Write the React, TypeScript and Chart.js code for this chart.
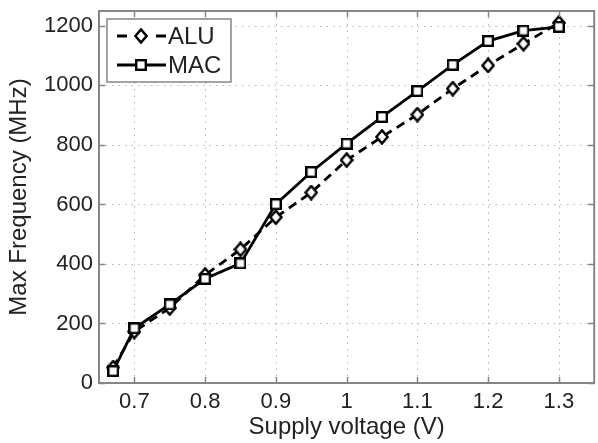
import { useEffect, useRef } from "react";
import { Chart, registerables } from "chart.js";

Chart.register(...registerables);

const voltages = [0.67, 0.7, 0.75, 0.8, 0.85, 0.9, 0.95, 1.0, 1.05, 1.1, 1.15, 1.2, 1.25, 1.3];
const aluFreq = [52, 173, 252, 363, 449, 557, 640, 749, 827, 902, 989, 1067, 1140, 1210];
const macFreq = [40, 184, 264, 350, 402, 601, 709, 804, 894, 981, 1069, 1149, 1184, 1197];
const xTickValues = [0.7, 0.8, 0.9, 1.0, 1.1, 1.2, 1.3];
const yTickValues = [0, 200, 400, 600, 800, 1000, 1200];
const seriesNames = ["ALU", "MAC"];

const FONT = '"Liberation Sans", Arial, Helvetica, sans-serif';
const TEXT = "#222222";
const AXIS = "#858585";

function makeDiamond(): HTMLCanvasElement {
  const c = document.createElement("canvas");
  c.width = 14;
  c.height = 16;
  const g = c.getContext("2d")!;
  g.beginPath();
  g.moveTo(7, 1.4);
  g.lineTo(12.6, 8);
  g.lineTo(7, 14.6);
  g.lineTo(1.4, 8);
  g.closePath();
  g.fillStyle = "#ffffff";
  g.fill();
  g.lineWidth = 2.4;
  g.strokeStyle = "#000";
  g.stroke();
  return c;
}

function makeSquare(): HTMLCanvasElement {
  const c = document.createElement("canvas");
  c.width = 12;
  c.height = 12;
  const g = c.getContext("2d")!;
  g.fillStyle = "#ffffff";
  g.fillRect(1, 1, 10, 10);
  g.lineWidth = 2.4;
  g.strokeStyle = "#000";
  g.strokeRect(1.2, 1.2, 9.6, 9.6);
  return c;
}

function makePlugin(imgs: HTMLCanvasElement[]) {
  return {
    id: "matlabAxes",
    beforeDatasetsDraw(chart: any) {
      const { ctx, chartArea: a, scales } = chart;
      const x = scales.x;
      const y = scales.y;
      ctx.save();
      ctx.strokeStyle = "#b4b4b4";
      ctx.lineWidth = 1;
      ctx.setLineDash([1.5, 5]);
      for (const v of xTickValues) {
        const px = Math.round(x.getPixelForValue(v)) + 0.5;
        ctx.beginPath();
        ctx.moveTo(px, a.top);
        ctx.lineTo(px, a.bottom);
        ctx.stroke();
      }
      for (const v of yTickValues) {
        if (v === 0) continue;
        const py = Math.round(y.getPixelForValue(v)) + 0.5;
        ctx.beginPath();
        ctx.moveTo(a.left, py);
        ctx.lineTo(a.right, py);
        ctx.stroke();
      }
      ctx.restore();
    },
    afterDatasetsDraw(chart: any) {
      const { ctx, chartArea: a, scales } = chart;
      const x = scales.x;
      const y = scales.y;
      ctx.save();
      ctx.strokeStyle = AXIS;
      ctx.lineWidth = 2;
      ctx.setLineDash([]);
      ctx.strokeRect(a.left, a.top, a.right - a.left, a.bottom - a.top);
      const tl = 6;
      ctx.lineWidth = 1.5;
      for (const v of xTickValues) {
        const px = Math.round(x.getPixelForValue(v)) + 0.5;
        ctx.beginPath();
        ctx.moveTo(px, a.bottom);
        ctx.lineTo(px, a.bottom - tl);
        ctx.moveTo(px, a.top);
        ctx.lineTo(px, a.top + tl);
        ctx.stroke();
      }
      for (const v of yTickValues) {
        const py = Math.round(y.getPixelForValue(v)) + 0.5;
        ctx.beginPath();
        ctx.moveTo(a.left, py);
        ctx.lineTo(a.left + tl, py);
        ctx.moveTo(a.right, py);
        ctx.lineTo(a.right - tl, py);
        ctx.stroke();
      }
      ctx.restore();
    },
    afterDraw(chart: any) {
      const { ctx } = chart;
      ctx.save();
      ctx.fillStyle = "#ffffff";
      ctx.fillRect(107, 19, 124, 63);
      ctx.strokeStyle = AXIS;
      ctx.lineWidth = 1.5;
      ctx.strokeRect(107, 19, 124, 63);
      const rows = [36, 65];
      ctx.strokeStyle = "#000";
      ctx.lineWidth = 2.8;
      ctx.beginPath();
      ctx.moveTo(117, rows[0]);
      ctx.lineTo(127, rows[0]);
      ctx.moveTo(156, rows[0]);
      ctx.lineTo(166, rows[0]);
      ctx.stroke();
      ctx.beginPath();
      ctx.moveTo(117, rows[1]);
      ctx.lineTo(166, rows[1]);
      ctx.stroke();
      ctx.drawImage(imgs[0], 141 - imgs[0].width / 2, rows[0] - imgs[0].height / 2);
      ctx.drawImage(imgs[1], 141 - imgs[1].width / 2, rows[1] - imgs[1].height / 2);
      ctx.fillStyle = TEXT;
      ctx.font = `24px ${FONT}`;
      ctx.textBaseline = "middle";
      ctx.textAlign = "left";
      ctx.fillText(seriesNames[0], 168, rows[0] + 1);
      ctx.fillText(seriesNames[1], 168, rows[1] + 1);
      ctx.restore();
    },
  };
}

export default function App() {
  const ref = useRef<HTMLCanvasElement | null>(null);
  useEffect(() => {
    const canvas = ref.current;
    if (!canvas) return;
    const diamond = makeDiamond();
    const square = makeSquare();
    const chart = new Chart(canvas, {
      type: "line",
      data: {
        datasets: [
          {
            label: seriesNames[0],
            data: voltages.map((v, i) => ({ x: v, y: aluFreq[i] })),
            borderColor: "#000",
            borderWidth: 2.8,
            borderDash: [9, 6],
            pointStyle: diamond as any,
            pointRadius: 7,
            fill: false,
            tension: 0,
            order: 1,
          },
          {
            label: seriesNames[1],
            data: voltages.map((v, i) => ({ x: v, y: macFreq[i] })),
            borderColor: "#000",
            borderWidth: 2.8,
            pointStyle: square as any,
            pointRadius: 6,
            fill: false,
            tension: 0,
            order: 0,
          },
        ],
      },
      options: {
        responsive: false,
        animation: false,
        devicePixelRatio: 1,
        layout: { padding: { top: 11, right: 2, left: 0, bottom: 0 } },
        plugins: { legend: { display: false }, tooltip: { enabled: false } },
        scales: {
          x: {
            type: "linear",
            min: 0.65,
            max: 1.35,
            afterBuildTicks: (s: any) => {
              s.ticks = xTickValues.map((v) => ({ value: v }));
            },
            afterFit: (s: any) => {
              s.height = 60;
              s.paddingLeft = 0;
              s.paddingRight = 0;
            },
            grid: { display: false, drawTicks: false },
            border: { display: false },
            ticks: {
              font: { size: 22, family: FONT },
              color: TEXT,
              padding: 6,
              maxRotation: 0,
              autoSkip: false,
              callback: (v: any) => String(Number(v)),
            },
            title: {
              display: true,
              text: "Supply voltage (V)",
              font: { size: 24, family: FONT },
              color: TEXT,
              padding: { top: 0, bottom: 1 },
            },
          },
          y: {
            type: "linear",
            min: 0,
            max: 1250,
            afterBuildTicks: (s: any) => {
              s.ticks = yTickValues.map((v) => ({ value: v }));
            },
            afterFit: (s: any) => {
              s.width = 99;
              s.paddingTop = 0;
              s.paddingBottom = 0;
            },
            grid: { display: false, drawTicks: false },
            border: { display: false },
            ticks: {
              font: { size: 22, family: FONT },
              color: TEXT,
              padding: 6,
              autoSkip: false,
              callback: (v: any) => String(v),
            },
            title: {
              display: true,
              text: "Max Frequency (MHz)",
              font: { size: 24, family: FONT },
              color: TEXT,
              padding: { top: 5, bottom: 0 },
            },
          },
        },
      },
      plugins: [makePlugin([diamond, square]) as any],
    });
    return () => chart.destroy();
  }, []);
  return (
    <div
      style={{
        position: "absolute",
        left: 0,
        top: 0,
        width: 598,
        height: 443,
        overflow: "hidden",
        background: "#fff",
      }}
    >
      <canvas ref={ref} width={604} height={443} style={{ display: "block", width: 604, height: 443 }} />
    </div>
  );
}
